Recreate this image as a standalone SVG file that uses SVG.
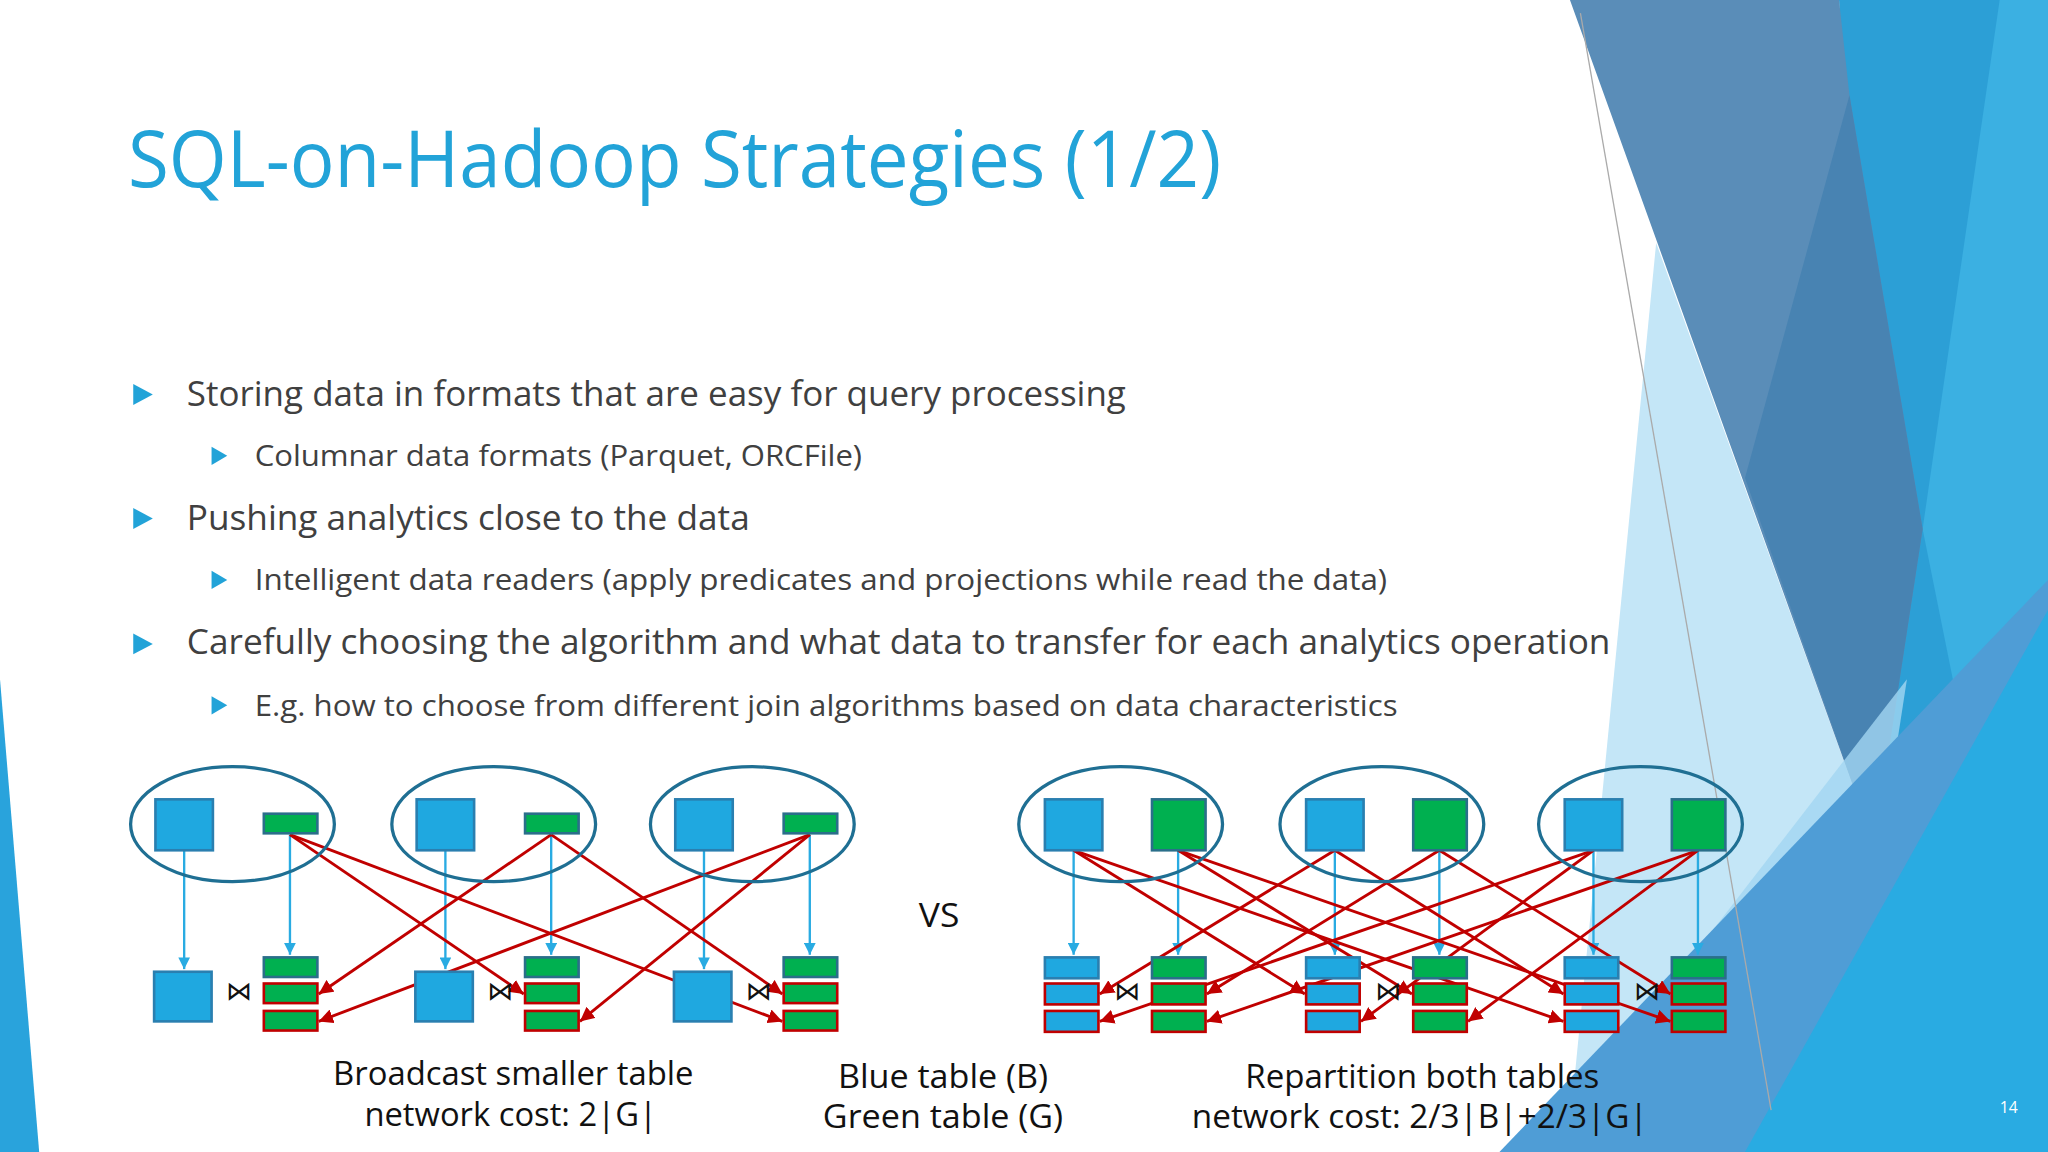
<svg xmlns="http://www.w3.org/2000/svg" width="2048" height="1152" viewBox="0 0 2048 1152">
<style>
.t{font-family:"Open Sans","DejaVu Sans",sans-serif;fill:#404040}
.c{font-family:"Open Sans","DejaVu Sans",sans-serif;fill:#111;font-size:25px;text-anchor:middle}
.bul{fill:#22a3d8}
.el{fill:none;stroke:#1f6f93;stroke-width:2.5}
.b{fill:#1fa8e0;stroke:#2a7fb0;stroke-width:2}
.g{fill:#00b050;stroke:#2a6f8a;stroke-width:2}
.gr{fill:#00b050;stroke:#c00000;stroke-width:2}
.br{fill:#1fa8e0;stroke:#c00000;stroke-width:2}
.ab{stroke:#29abe2;stroke-width:1.8;fill:none;marker-end:url(#mb)}
.ar{stroke:#c00000;stroke-width:2.2;fill:none;marker-end:url(#mr)}
.j{font-family:"DejaVu Sans",sans-serif;font-size:20px;text-anchor:middle;fill:#111}
</style>
<defs>
<marker id="mb" viewBox="0 0 10 10" refX="10" refY="5" markerWidth="5" markerHeight="5" orient="auto"><path d="M0,0L10,5L0,10z" fill="#29abe2"/></marker>
<marker id="mr" viewBox="0 0 10 10" refX="10" refY="5" markerWidth="5" markerHeight="5" orient="auto"><path d="M0,0L10,5L0,10z" fill="#c00000"/></marker>
</defs>
<rect width="2048" height="1152" fill="#ffffff"/>
<g transform="scale(1.30612)">
<g id="background">
<polygon points="0,520 30,882 0,882" fill="#29a3dc"/>
<polygon points="1268,186 1435,647 1352,882 1200,882" fill="#c4e6f7"/>
<polygon points="1408,0 1568,0 1568,882 1435,647" fill="#2c9fd6"/>
<polygon points="1531,0 1568,0 1568,882 1472,405" fill="#3bb0e2"/>
<polygon points="1202,0 1408,0 1416,73 1472,405 1435,647" fill="#5a8db8"/>
<polygon points="1416,73 1472,405 1435,647 1336,366" fill="#4883b2"/>
<polygon points="1180,882 1460,520 1440,650 1352,882" fill="#a3d6f1" opacity="0.8"/>
<polygon points="1148,882 1568,444 1568,882" fill="#4f9dd6"/>
<polygon points="1336,882 1568,467 1568,882" fill="#29abe2"/>
<line x1="1210" y1="10" x2="1356" y2="850" stroke="#aaaaaa" stroke-width="1"/>
<text x="1538" y="852" font-family="Open Sans,sans-serif" font-size="12" fill="#ffffff" text-anchor="middle">14</text>
</g>
<g id="title"><text x="98" y="143" class="t" style="fill:#22a3d8" font-size="60" textLength="837" lengthAdjust="spacingAndGlyphs">SQL-on-Hadoop Strategies (1/2)</text></g>
<g id="bullets">
<polygon class="bul" points="102,294 117,302 102,310"/>
<text x="143" y="311" class="t" font-size="27" textLength="719" lengthAdjust="spacingAndGlyphs">Storing data in formats that are easy for query processing</text>
<polygon class="bul" points="162,342 174,349 162,356"/>
<text x="195" y="357" class="t" font-size="23" textLength="465" lengthAdjust="spacingAndGlyphs">Columnar data formats (Parquet, ORCFile)</text>
<polygon class="bul" points="102,389 117,397 102,405"/>
<text x="143" y="406" class="t" font-size="27" textLength="431" lengthAdjust="spacingAndGlyphs">Pushing analytics close to the data</text>
<polygon class="bul" points="162,437 174,444 162,451"/>
<text x="195" y="452" class="t" font-size="23" textLength="867" lengthAdjust="spacingAndGlyphs">Intelligent data readers (apply predicates and projections while read the data)</text>
<polygon class="bul" points="102,485 117,493 102,501"/>
<text x="143" y="501" class="t" font-size="27" textLength="1090" lengthAdjust="spacingAndGlyphs">Carefully choosing the algorithm and what data to transfer for each analytics operation</text>
<polygon class="bul" points="162,533 174,540 162,547"/>
<text x="195" y="548" class="t" font-size="23" textLength="875" lengthAdjust="spacingAndGlyphs">E.g. how to choose from different join algorithms based on data characteristics</text>
</g>
<g id="connectors">
<line class="ab" x1="141" y1="651" x2="141" y2="742"/><line class="ab" x1="222" y1="639" x2="222" y2="731"/>
<line class="ab" x1="341" y1="651" x2="341" y2="742"/><line class="ab" x1="422" y1="639" x2="422" y2="731"/>
<line class="ab" x1="539" y1="651" x2="539" y2="742"/><line class="ab" x1="620" y1="639" x2="620" y2="731"/>
<line class="ar" x1="222" y1="639" x2="401" y2="761"/><line class="ar" x1="222" y1="639" x2="599" y2="782"/>
<line class="ar" x1="422" y1="639" x2="244" y2="761"/><line class="ar" x1="422" y1="639" x2="599" y2="761"/>
<line class="ar" x1="620" y1="639" x2="244" y2="782"/><line class="ar" x1="620" y1="639" x2="444" y2="782"/>
<line class="ab" x1="822" y1="651" x2="822" y2="731"/><line class="ab" x1="902" y1="651" x2="902" y2="731"/>
<line class="ab" x1="1022" y1="651" x2="1022" y2="731"/><line class="ab" x1="1102" y1="651" x2="1102" y2="731"/>
<line class="ab" x1="1220" y1="651" x2="1220" y2="731"/><line class="ab" x1="1300" y1="651" x2="1300" y2="731"/>
<line class="ar" x1="822" y1="651" x2="999" y2="761"/><line class="ar" x1="822" y1="651" x2="1197" y2="782"/>
<line class="ar" x1="1022" y1="651" x2="842" y2="761"/><line class="ar" x1="1022" y1="651" x2="1197" y2="761"/>
<line class="ar" x1="1220" y1="651" x2="842" y2="782"/><line class="ar" x1="1220" y1="651" x2="1042" y2="782"/>
<line class="ar" x1="902" y1="651" x2="1081" y2="761"/><line class="ar" x1="902" y1="651" x2="1279" y2="782"/>
<line class="ar" x1="1102" y1="651" x2="924" y2="761"/><line class="ar" x1="1102" y1="651" x2="1279" y2="761"/>
<line class="ar" x1="1300" y1="651" x2="924" y2="782"/><line class="ar" x1="1300" y1="651" x2="1124" y2="782"/>
</g>
<g id="broadcast-node1"><ellipse class="el" cx="178" cy="631" rx="78" ry="44"/><rect class="b" x="119" y="612" width="44" height="39"/><rect class="g" x="202" y="623" width="41" height="15"/><rect class="b" x="118" y="744" width="44" height="38"/><rect class="g" x="202" y="733" width="41" height="15"/><rect class="gr" x="202" y="753" width="41" height="15"/><rect class="gr" x="202" y="774" width="41" height="15"/><text class="j" x="183" y="766">⋈</text></g>
<g id="broadcast-node2" transform="translate(200,0)"><ellipse class="el" cx="178" cy="631" rx="78" ry="44"/><rect class="b" x="119" y="612" width="44" height="39"/><rect class="g" x="202" y="623" width="41" height="15"/><rect class="b" x="118" y="744" width="44" height="38"/><rect class="g" x="202" y="733" width="41" height="15"/><rect class="gr" x="202" y="753" width="41" height="15"/><rect class="gr" x="202" y="774" width="41" height="15"/><text class="j" x="183" y="766">⋈</text></g>
<g id="broadcast-node3" transform="translate(398,0)"><ellipse class="el" cx="178" cy="631" rx="78" ry="44"/><rect class="b" x="119" y="612" width="44" height="39"/><rect class="g" x="202" y="623" width="41" height="15"/><rect class="b" x="118" y="744" width="44" height="38"/><rect class="g" x="202" y="733" width="41" height="15"/><rect class="gr" x="202" y="753" width="41" height="15"/><rect class="gr" x="202" y="774" width="41" height="15"/><text class="j" x="183" y="766">⋈</text></g>
<g id="repart-node1"><ellipse class="el" cx="858" cy="631" rx="78" ry="44"/><rect class="b" x="800" y="612" width="44" height="39"/><rect class="g" x="882" y="612" width="41" height="39"/><rect class="b" x="800" y="733" width="41" height="16"/><rect class="br" x="800" y="753" width="41" height="16"/><rect class="br" x="800" y="774" width="41" height="16"/><rect class="g" x="882" y="733" width="41" height="16"/><rect class="gr" x="882" y="753" width="41" height="16"/><rect class="gr" x="882" y="774" width="41" height="16"/><text class="j" x="863" y="766">⋈</text></g>
<g id="repart-node2" transform="translate(200,0)"><ellipse class="el" cx="858" cy="631" rx="78" ry="44"/><rect class="b" x="800" y="612" width="44" height="39"/><rect class="g" x="882" y="612" width="41" height="39"/><rect class="b" x="800" y="733" width="41" height="16"/><rect class="br" x="800" y="753" width="41" height="16"/><rect class="br" x="800" y="774" width="41" height="16"/><rect class="g" x="882" y="733" width="41" height="16"/><rect class="gr" x="882" y="753" width="41" height="16"/><rect class="gr" x="882" y="774" width="41" height="16"/><text class="j" x="863" y="766">⋈</text></g>
<g id="repart-node3" transform="translate(398,0)"><ellipse class="el" cx="858" cy="631" rx="78" ry="44"/><rect class="b" x="800" y="612" width="44" height="39"/><rect class="g" x="882" y="612" width="41" height="39"/><rect class="b" x="800" y="733" width="41" height="16"/><rect class="br" x="800" y="753" width="41" height="16"/><rect class="br" x="800" y="774" width="41" height="16"/><rect class="g" x="882" y="733" width="41" height="16"/><rect class="gr" x="882" y="753" width="41" height="16"/><rect class="gr" x="882" y="774" width="41" height="16"/><text class="j" x="863" y="766">⋈</text></g>
<g id="captions">
<text class="c" x="393" y="831" textLength="276" lengthAdjust="spacingAndGlyphs">Broadcast smaller table</text>
<text class="c" x="391" y="862" textLength="224" lengthAdjust="spacingAndGlyphs">network cost: 2|G|</text>
<text class="c" x="719" y="710" textLength="31" lengthAdjust="spacingAndGlyphs">VS</text>
<text class="c" x="722" y="833" textLength="161" lengthAdjust="spacingAndGlyphs">Blue table (B)</text>
<text class="c" x="722" y="864" textLength="184" lengthAdjust="spacingAndGlyphs">Green table (G)</text>
<text class="c" x="1089" y="833" textLength="271" lengthAdjust="spacingAndGlyphs">Repartition both tables</text>
<text class="c" x="1087" y="864" textLength="349" lengthAdjust="spacingAndGlyphs">network cost: 2/3|B|+2/3|G|</text>
</g>
</g>
</svg>
